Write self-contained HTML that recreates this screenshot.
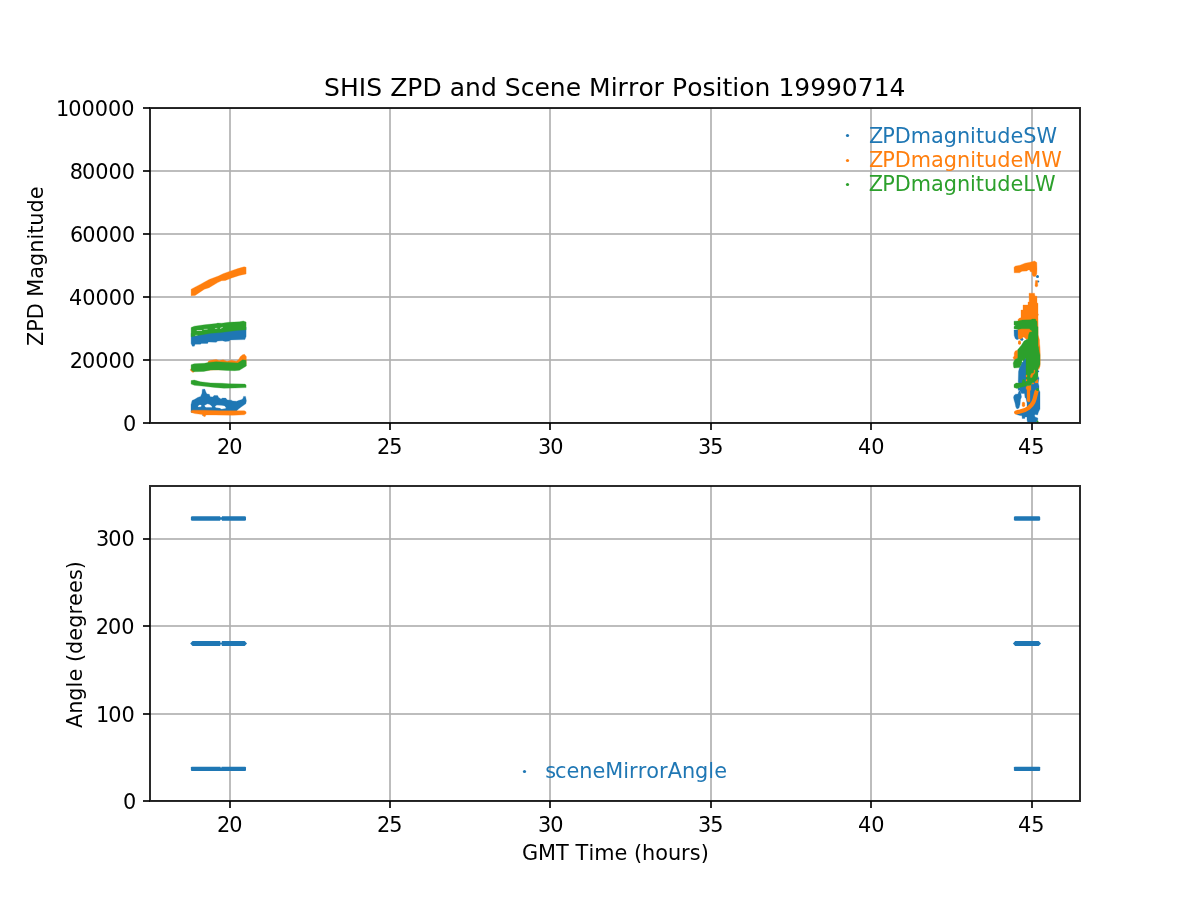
<!DOCTYPE html>
<html lang="en">
<head>
<meta charset="utf-8">
<title>SHIS ZPD and Scene Mirror Position 19990714</title>
<style>
html,body{margin:0;padding:0;background:#fff;width:1200px;height:900px;overflow:hidden}
svg{display:block}
text{font-family:'DejaVu Sans','Liberation Sans',sans-serif;font-size:20.833px;fill:#000}
.grid line{stroke:#b0b0b0;stroke-opacity:.8333;stroke-width:2}
.tick line{stroke:#000;stroke-opacity:.8333;stroke-width:2}
.spine{fill:none;stroke:#000;stroke-opacity:.8333;stroke-width:2;stroke-linejoin:miter}
.b{fill:#1f77b4}.o{fill:#ff7f0e}.g{fill:#2ca02c}
.sb{fill:none;stroke:#1f77b4}.so{fill:none;stroke:#ff7f0e}.sg{fill:none;stroke:#2ca02c}
.sb,.so,.sg{stroke-linecap:round;stroke-linejoin:round}
</style>
</head>
<body>
<svg width="1200" height="900" viewBox="0 0 1200 900">
<rect x="0" y="0" width="1200" height="900" fill="#fff"/>
<g id="top">
<clipPath id="clip-top"><rect x="150" y="108" width="930" height="315"/></clipPath>
<g class="grid" clip-path="url(#clip-top)">
<line x1="230" y1="108" x2="230" y2="423"/>
<line x1="390" y1="108" x2="390" y2="423"/>
<line x1="550" y1="108" x2="550" y2="423"/>
<line x1="711" y1="108" x2="711" y2="423"/>
<line x1="871" y1="108" x2="871" y2="423"/>
<line x1="1032" y1="108" x2="1032" y2="423"/>
<line x1="150" y1="423" x2="1080" y2="423"/>
<line x1="150" y1="360" x2="1080" y2="360"/>
<line x1="150" y1="297" x2="1080" y2="297"/>
<line x1="150" y1="234" x2="1080" y2="234"/>
<line x1="150" y1="171" x2="1080" y2="171"/>
<line x1="150" y1="108" x2="1080" y2="108"/>
</g>
<g id="zpd-data">
<polygon points="191.1,333.3 246.1,327.1 246.1,336.4 244.9,339.6 230.1,339.9 229.3,341.1 225.4,341.5 222.3,340.7 217.7,341.1 216.1,342.3 208.3,341.9 207.6,343.4 201.3,343.4 200.6,344.2 195.1,344.2 194.3,346.2 192.4,346.2 191.1,343.4" fill="#1f77b4" stroke="#1f77b4" stroke-width="0.3" stroke-linejoin="round"/>
<polygon points="191.0,404.8 192.1,400.5 194.8,399.3 197.7,397.5 200.6,396.4 202.0,393.2 202.3,389.4 204.7,389.1 206.1,392.6 207.0,394.0 209.3,394.3 210.2,396.7 212.8,397.0 214.0,395.5 217.5,395.4 218.7,397.5 221.0,399.0 222.5,398.1 225.7,398.1 227.4,399.9 231.5,400.2 232.7,401.0 236.8,401.3 238.5,400.5 242.0,399.6 243.2,398.1 243.5,396.4 245.5,396.4 246.4,400.8 245.8,403.7 244.3,404.8 240.8,407.2 238.5,408.9 236.8,410.7 236.8,412.4 191.0,412.4" fill="#1f77b4" stroke="#1f77b4" stroke-width="0.3" stroke-linejoin="round"/>
<circle cx="202.5" cy="415.0" r="0.53" fill="#1f77b4"/>
<polygon points="191.1,289.2 200.6,284.2 209.1,279.5 218.4,276.0 223.1,273.7 230.1,271.2 237.9,268.6 244.1,266.8 246.1,267.3 246.1,273.9 239.4,275.4 231.7,277.9 225.4,280.5 221.6,280.7 217.7,282.6 209.1,287.7 204.4,289.2 195.1,295.4 191.1,295.8" fill="#ff7f0e" stroke="#ff7f0e" stroke-width="0.3" stroke-linejoin="round"/>
<polygon points="190.1,369.9 192.8,366.8 207.6,363.7 208.3,361.3 210.7,360.2 216.1,359.4 219.2,360.6 223.1,359.8 227.0,361.3 231.7,360.2 236.3,361.3 238.7,359.4 240.2,356.7 242.6,354.7 244.5,354.3 246.4,356.7 246.1,364.4 239.4,369.1 195.1,370.7 193.6,372.2 192.4,372.2" fill="#ff7f0e" stroke="#ff7f0e" stroke-width="0.3" stroke-linejoin="round"/>
<polygon points="191.0,411.0 192.4,410.2 203.5,410.2 221.0,410.7 244.3,410.7 246.1,411.8 246.1,413.6 244.3,414.8 232.7,415.3 215.2,415.0 205.8,414.9 205.5,416.2 204.1,416.8 202.9,415.6 202.3,414.5 194.8,413.6 191.2,412.4" fill="#ff7f0e" stroke="#ff7f0e" stroke-width="0.3" stroke-linejoin="round"/>
<polygon points="191.1,327.5 194.3,326.2 204.4,324.8 216.1,323.6 217.7,323.1 221.6,323.2 228.6,322.3 239.4,321.8 243.3,321.0 246.1,322.1 246.1,329.8 236.3,330.4 220.8,332.6 210.7,333.3 196.7,335.7 191.1,336.8" fill="#2ca02c" stroke="#2ca02c" stroke-width="0.3" stroke-linejoin="round"/>
<polygon points="191.1,364.8 194.3,363.7 204.4,363.3 208.3,362.5 216.1,361.7 237.9,362.9 242.6,359.8 246.1,360.2 246.4,366.0 239.4,370.3 234.8,370.7 227.0,370.5 218.4,369.9 210.7,370.0 203.7,371.4 193.6,371.8 191.1,369.9" fill="#2ca02c" stroke="#2ca02c" stroke-width="0.3" stroke-linejoin="round"/>
<polygon points="191.1,380.6 194.3,380.1 200.6,381.8 210.7,382.9 222.3,383.3 228.6,383.7 244.9,384.1 246.1,384.9 246.1,387.6 234.8,388.0 223.9,388.2 214.6,387.4 204.4,386.3 194.3,385.3 191.1,384.1" fill="#2ca02c" stroke="#2ca02c" stroke-width="0.3" stroke-linejoin="round"/>
<polyline points="197.1,330.5 201.7,330.5" fill="none" stroke="#eaf5ea" stroke-width="0.7" stroke-linejoin="round" stroke-linecap="round"/>
<polyline points="204.1,329.4 207.2,329.3" fill="none" stroke="#e0f0e0" stroke-width="0.6" stroke-linejoin="round" stroke-linecap="round"/>
<polyline points="215.3,328.5 216.9,328.4" fill="none" stroke="#e0f0e0" stroke-width="0.6" stroke-linejoin="round" stroke-linecap="round"/>
<polyline points="220.4,328.3 222.3,327.5" fill="none" stroke="#eaf5ea" stroke-width="0.8" stroke-linejoin="round" stroke-linecap="round"/>
<polyline points="195.5,335.4 197.1,335.3" fill="none" stroke="#dcebdc" stroke-width="0.5" stroke-linejoin="round" stroke-linecap="round"/>
<polygon points="198.0,406.3 199.4,405.1 201.2,405.1 201.1,406.6 198.5,406.9" fill="#ffffff" stroke="#ffffff" stroke-width="0.2" stroke-linejoin="round"/>
<polygon points="204.7,405.4 207.6,404.0 209.9,404.8 211.7,406.3 212.0,407.2 205.8,407.2 205.0,406.3" fill="#ffffff" stroke="#ffffff" stroke-width="0.2" stroke-linejoin="round"/>
<polygon points="215.2,406.3 216.9,405.3 221.0,405.4 224.5,406.1 225.7,407.5 225.7,408.3 221.6,408.9 219.8,408.0 215.8,407.5" fill="#ffffff" stroke="#ffffff" stroke-width="0.2" stroke-linejoin="round"/>
<circle cx="1037.5" cy="276.5" r="1.50" fill="#1f77b4"/>
<circle cx="1038.2" cy="281.5" r="1.10" fill="#1f77b4"/>
<polygon points="1014.0,330.0 1018.2,330.0 1018.2,335.0 1018.8,339.0 1017.0,339.8 1015.2,338.5 1014.2,335.5" fill="#1f77b4" stroke="#1f77b4" stroke-width="0.3" stroke-linejoin="round"/>
<circle cx="1021.8" cy="339.2" r="1.50" fill="#1f77b4"/>
<polygon points="1022.0,360.0 1026.0,358.0 1026.5,382.0 1026.5,386.0 1031.0,385.0 1038.0,376.5 1039.0,378.0 1038.2,383.0 1039.0,386.0 1039.0,390.0 1040.0,392.0 1040.0,405.0 1040.0,409.0 1039.5,410.0 1038.5,412.0 1037.5,415.0 1035.5,414.5 1034.5,415.0 1035.0,417.0 1037.8,418.0 1037.8,420.0 1036.5,422.0 1027.5,422.0 1027.0,420.0 1027.0,417.0 1025.0,417.0 1024.8,418.5 1022.2,418.5 1022.0,415.8 1020.0,415.5 1016.5,414.5 1020.0,413.0 1027.0,407.2 1027.0,403.0 1026.0,398.5 1025.0,397.5 1024.5,393.5 1021.5,393.5 1020.5,391.5 1019.5,390.0 1018.2,390.5 1018.0,388.0 1020.0,387.5 1018.2,382.0 1018.5,371.5 1019.5,367.5 1021.0,365.0" fill="#1f77b4" stroke="#1f77b4" stroke-width="0.3" stroke-linejoin="round"/>
<polygon points="1014.0,395.5 1015.5,394.2 1018.0,394.0 1018.5,392.0 1019.5,390.5 1020.5,391.5 1021.0,394.0 1021.5,397.0 1020.5,399.5 1020.0,404.5 1019.0,408.0 1017.0,409.0 1015.8,407.0 1015.0,403.0 1014.2,400.5 1013.5,397.5" fill="#1f77b4" stroke="#1f77b4" stroke-width="0.3" stroke-linejoin="round"/>
<polygon points="1014.0,267.5 1015.0,266.2 1020.0,265.2 1025.0,263.2 1030.0,262.2 1034.5,261.0 1036.8,262.5 1037.0,269.0 1036.8,274.0 1035.5,276.5 1033.5,276.5 1032.2,275.0 1032.0,272.0 1030.0,271.5 1029.8,270.0 1028.0,270.0 1027.0,271.0 1022.0,271.2 1019.5,272.8 1014.2,272.8" fill="#ff7f0e" stroke="#ff7f0e" stroke-width="0.3" stroke-linejoin="round"/>
<polygon points="1035.5,280.5 1037.5,280.5 1037.8,286.0 1037.0,286.8 1035.8,286.8 1035.0,286.0" fill="#ff7f0e" stroke="#ff7f0e" stroke-width="0.3" stroke-linejoin="round"/>
<polygon points="1029.0,293.2 1034.5,293.2 1035.0,296.0 1037.0,296.2 1037.0,303.0 1038.0,303.2 1038.0,313.5 1038.5,314.5 1038.0,316.0 1038.2,335.0 1039.5,340.0 1039.6,344.0 1040.0,347.0 1040.2,353.0 1040.2,364.0 1039.8,366.5 1038.1,369.0 1035.0,370.0 1029.0,355.0 1029.0,340.0 1027.8,339.0 1026.0,339.2 1025.0,338.0 1023.5,337.0 1022.0,338.2 1020.0,339.2 1018.5,338.5 1018.0,335.0 1018.0,321.0 1018.0,319.5 1019.5,318.0 1021.0,317.8 1021.0,310.0 1023.0,310.0 1023.0,305.0 1028.0,305.0 1028.0,302.0 1029.2,302.0" fill="#ff7f0e" stroke="#ff7f0e" stroke-width="0.3" stroke-linejoin="round"/>
<polyline points="1019.5,341.9 1019.5,343.3" fill="none" stroke="#ff7f0e" stroke-width="2.8" stroke-linejoin="round" stroke-linecap="round"/>
<polygon points="1015.2,351.0 1017.8,350.0 1018.0,358.0 1015.0,359.5 1014.0,359.5 1013.0,357.5 1014.2,356.0 1014.2,353.0" fill="#ff7f0e" stroke="#ff7f0e" stroke-width="0.3" stroke-linejoin="round"/>
<polygon points="1038.2,369.0 1039.5,365.0 1040.0,365.5 1039.0,369.5" fill="#ff7f0e" stroke="#ff7f0e" stroke-width="0.3" stroke-linejoin="round"/>
<polygon points="1035.0,381.5 1038.0,379.2 1038.0,383.0 1035.0,382.9" fill="#ff7f0e" stroke="#ff7f0e" stroke-width="0.3" stroke-linejoin="round"/>
<polygon points="1032.0,383.0 1034.0,383.1 1033.9,384.0 1032.0,384.1" fill="#ff7f0e" stroke="#ff7f0e" stroke-width="0.3" stroke-linejoin="round"/>
<polygon points="1026.0,387.0 1027.0,386.0 1031.0,385.0 1031.0,389.5 1030.0,391.0 1030.0,401.5 1028.5,402.0 1027.0,401.0 1027.0,390.0 1026.0,388.5" fill="#ff7f0e" stroke="#ff7f0e" stroke-width="0.3" stroke-linejoin="round"/>
<polyline points="1016.1,412.4 1020.0,411.5 1025.0,410.0 1028.5,408.0 1031.5,405.0 1033.5,402.0 1034.6,399.0 1035.6,395.0 1036.5,391.5" fill="none" stroke="#ff7f0e" stroke-width="4.1" stroke-linejoin="round" stroke-linecap="round"/>
<polygon points="1022.2,402.5 1023.5,402.0 1024.8,402.8 1024.9,405.5 1024.2,406.8 1022.8,406.8 1022.1,405.5" fill="#ff7f0e" stroke="#ff7f0e" stroke-width="0.3" stroke-linejoin="round"/>
<polygon points="1014.0,321.2 1018.0,321.0 1022.5,320.0 1031.0,319.8 1032.0,319.0 1035.5,319.0 1036.2,321.0 1037.0,321.2 1037.2,326.5 1038.0,326.8 1038.0,335.0 1038.0,346.0 1038.5,347.0 1039.2,352.0 1040.0,355.0 1040.0,364.5 1039.4,366.0 1038.0,369.0 1038.0,376.5 1037.0,379.0 1035.0,381.5 1032.0,383.0 1031.0,385.0 1026.0,386.0 1020.0,387.5 1017.0,388.5 1014.0,387.5 1014.0,384.5 1016.0,383.0 1022.0,383.0 1022.2,382.0 1022.5,380.0 1023.5,379.0 1024.8,380.0 1025.0,382.0 1026.0,382.0 1026.0,358.0 1025.0,359.0 1021.5,363.0 1021.0,365.0 1019.5,367.5 1017.0,367.8 1014.0,368.0 1013.5,366.5 1013.2,363.0 1014.0,361.0 1015.0,359.5 1017.8,358.0 1017.8,349.5 1019.5,347.5 1021.5,345.0 1024.0,341.0 1026.5,339.5 1028.0,339.0 1028.5,335.0 1029.5,332.2 1032.0,331.8 1032.2,331.0 1030.5,330.0 1029.5,328.8 1021.5,328.8 1018.0,329.5 1014.0,328.8 1014.0,326.5 1015.5,325.5 1014.0,325.0" fill="#2ca02c" stroke="#2ca02c" stroke-width="0.3" stroke-linejoin="round"/>
<circle cx="1038.4" cy="371.4" r="0.80" fill="#1f77b4"/>
<circle cx="1037.5" cy="389.5" r="1.50" fill="#2ca02c"/>
<circle cx="1037.5" cy="421.6" r="1.00" fill="#2ca02c"/>
<polygon points="1034.0,370.0 1035.0,370.2 1034.8,373.0 1033.0,375.0 1032.0,377.5 1030.5,377.5 1030.5,375.5 1031.5,373.5 1033.8,373.0" fill="#ff7f0e" stroke="#ff7f0e" stroke-width="0.3" stroke-linejoin="round"/>
<polygon points="1026.0,375.0 1027.0,375.0 1027.0,377.0 1026.0,377.0" fill="#ff7f0e" stroke="#ff7f0e" stroke-width="0.3" stroke-linejoin="round"/>
<polygon points="1026.0,379.5 1027.0,379.5 1027.0,381.0 1026.0,381.0" fill="#ff7f0e" stroke="#ff7f0e" stroke-width="0.3" stroke-linejoin="round"/>
<polygon points="1022.0,361.2 1022.8,360.6 1023.0,361.8 1022.2,362.1" fill="#ffffff" stroke="#ffffff" stroke-width="0.2" stroke-linejoin="round"/>
</g>
<g class="tick">
<line x1="230" y1="423" x2="230" y2="430"/>
<line x1="390" y1="423" x2="390" y2="430"/>
<line x1="550" y1="423" x2="550" y2="430"/>
<line x1="711" y1="423" x2="711" y2="430"/>
<line x1="871" y1="423" x2="871" y2="430"/>
<line x1="1032" y1="423" x2="1032" y2="430"/>
<line x1="143" y1="423" x2="150" y2="423"/>
<line x1="143" y1="360" x2="150" y2="360"/>
<line x1="143" y1="297" x2="150" y2="297"/>
<line x1="143" y1="234" x2="150" y2="234"/>
<line x1="143" y1="171" x2="150" y2="171"/>
<line x1="143" y1="108" x2="150" y2="108"/>
</g>
<rect class="spine" x="150" y="108" width="930" height="315"/>
<g class="xl">
<text x="217.03 229.31" y="454">20</text>
<text x="377.06 389.36" y="454">25</text>
<text x="538.02 550.24" y="454">30</text>
<text x="698.10 710.34" y="454">35</text>
<text x="858.00 871.26" y="454">40</text>
<text x="1017.99 1031.27" y="454">45</text>
</g>
<g class="yl">
<text x="122.95" y="431">0</text>
<text x="69.79 82.07 95.32 108.57 121.82" y="368">20000</text>
<text x="68.95 82.22 95.47 108.72 121.97" y="305">40000</text>
<text x="70.00 82.33 95.58 108.83 122.08" y="242">60000</text>
<text x="69.83 82.00 95.25 108.50 121.75" y="179">80000</text>
<text x="56.01 68.25 81.50 94.75 108.00 121.25" y="116">100000</text>
</g>
<g class="legend"><circle class="b" cx="847.5" cy="135.5" r="1.6"/><text class="b" x="868.88 882.15 894.65 910.68 930.94 943.66 956.93 970.10 975.88 984.04 997.16 1010.41 1023.32 1036.57" y="143">ZPDmagnitudeSW</text><circle class="o" cx="847.5" cy="160.5" r="1.6"/><text class="o" x="868.95 882.22 894.72 910.75 931.01 943.73 957.00 970.17 975.95 984.11 997.23 1010.48 1023.34 1041.26" y="167">ZPDmagnitudeMW</text><circle class="g" cx="847.5" cy="184.5" r="1.6"/><text class="g" x="868.86 882.13 894.63 910.66 930.92 943.64 956.91 970.08 975.86 984.02 997.14 1010.39 1023.25 1034.91" y="191">ZPDmagnitudeLW</text></g>
</g>
<g id="bottom">
<clipPath id="clip-bottom"><rect x="150" y="486" width="930" height="315"/></clipPath>
<g class="grid" clip-path="url(#clip-bottom)">
<line x1="230" y1="486" x2="230" y2="801"/>
<line x1="390" y1="486" x2="390" y2="801"/>
<line x1="550" y1="486" x2="550" y2="801"/>
<line x1="711" y1="486" x2="711" y2="801"/>
<line x1="871" y1="486" x2="871" y2="801"/>
<line x1="1032" y1="486" x2="1032" y2="801"/>
<line x1="150" y1="801" x2="1080" y2="801"/>
<line x1="150" y1="714" x2="1080" y2="714"/>
<line x1="150" y1="626" x2="1080" y2="626"/>
<line x1="150" y1="539" x2="1080" y2="539"/>
</g>
<g id="angle-data">
<rect x="190.90" y="516.30" width="55.10" height="4.40" rx="1.3" ry="1.3" fill="#1f77b4"/>
<rect x="220.2" y="516.00" width="1.70" height="1.20" fill="#fff"/><rect x="220.2" y="519.80" width="1.70" height="1.20" fill="#fff"/>
<rect x="1013.90" y="516.30" width="26.30" height="4.40" rx="1.3" ry="1.3" fill="#1f77b4"/>
<polygon points="190.20,643.55 192.50,641.05 244.70,641.05 247.00,643.55 244.70,646.05 192.50,646.05" fill="#1f77b4"/>
<rect x="220.3" y="640.75" width="1.50" height="1.80" fill="#fff"/><rect x="220.3" y="644.55" width="1.50" height="1.80" fill="#fff"/>
<polygon points="1012.90,643.55 1015.20,641.05 1038.70,641.05 1041.00,643.55 1038.70,646.05 1015.20,646.05" fill="#1f77b4"/>
<rect x="190.90" y="766.65" width="55.10" height="4.30" rx="0.9" ry="0.9" fill="#1f77b4"/>
<rect x="220.3" y="766.35" width="1.50" height="1.00" fill="#fff"/>
<rect x="1013.90" y="766.65" width="26.30" height="4.30" rx="0.9" ry="0.9" fill="#1f77b4"/>
</g>
<g class="tick">
<line x1="230" y1="801" x2="230" y2="808"/>
<line x1="390" y1="801" x2="390" y2="808"/>
<line x1="550" y1="801" x2="550" y2="808"/>
<line x1="711" y1="801" x2="711" y2="808"/>
<line x1="871" y1="801" x2="871" y2="808"/>
<line x1="1032" y1="801" x2="1032" y2="808"/>
<line x1="143" y1="801" x2="150" y2="801"/>
<line x1="143" y1="714" x2="150" y2="714"/>
<line x1="143" y1="626" x2="150" y2="626"/>
<line x1="143" y1="539" x2="150" y2="539"/>
</g>
<rect class="spine" x="150" y="486" width="930" height="315"/>
<g class="xl">
<text x="217.03 229.31" y="832">20</text>
<text x="377.06 389.36" y="832">25</text>
<text x="538.02 550.24" y="832">30</text>
<text x="698.10 710.34" y="832">35</text>
<text x="858.00 871.26" y="832">40</text>
<text x="1017.99 1031.27" y="832">45</text>
</g>
<g class="yl">
<text x="122.95" y="809">0</text>
<text x="95.91 108.15 121.40" y="722">100</text>
<text x="95.80 108.08 121.33" y="634">200</text>
<text x="95.95 108.17 121.42" y="546">300</text>
</g>
<g class="legend"><circle class="b" cx="524.5" cy="771.5" r="1.6"/><text class="b" x="545.13 554.91 566.41 579.30 592.41 605.27 623.22 629.05 637.68 646.29 659.05 667.69 681.93 695.04 708.35 714.16" y="778">sceneMirrorAngle</text></g>
</g>
<text style="font-size:25.000px" x="323.98 339.93 358.80 366.23 382.13 390.13 407.30 422.43 441.76 449.76 464.99 480.88 496.76 504.73 520.63 534.38 549.74 565.63 581.01 589.05 610.65 617.62 627.99 638.38 653.62 664.01 672.05 687.13 702.40 715.52 722.46 732.27 739.26 754.49 770.38 778.38 794.30 810.18 826.05 841.85 857.71 873.63 889.54" y="96">SHIS ZPD and Scene Mirror Position 19990714</text>
<text transform="translate(43 266.20) rotate(-90)" x="-79.86 -65.60 -53.10 -37.05 -30.47 -12.55 0.17 13.43 26.61 32.39 40.54 53.67 66.92" y="0">ZPD Magnitude</text>
<text transform="translate(82 644.50) rotate(-90)" x="-83.53 -69.30 -56.19 -42.88 -37.07 -24.16 -17.58 -9.44 3.81 16.68 29.95 38.56 51.43 64.40 75.23" y="0">Angle (degrees)</text>
<text x="521.96 538.09 556.07 568.89 575.57 588.42 594.25 614.48 627.39 633.96 642.12 655.23 667.98 681.12 689.82 700.65" y="860">GMT Time (hours)</text>
</svg>
</body>
</html>
